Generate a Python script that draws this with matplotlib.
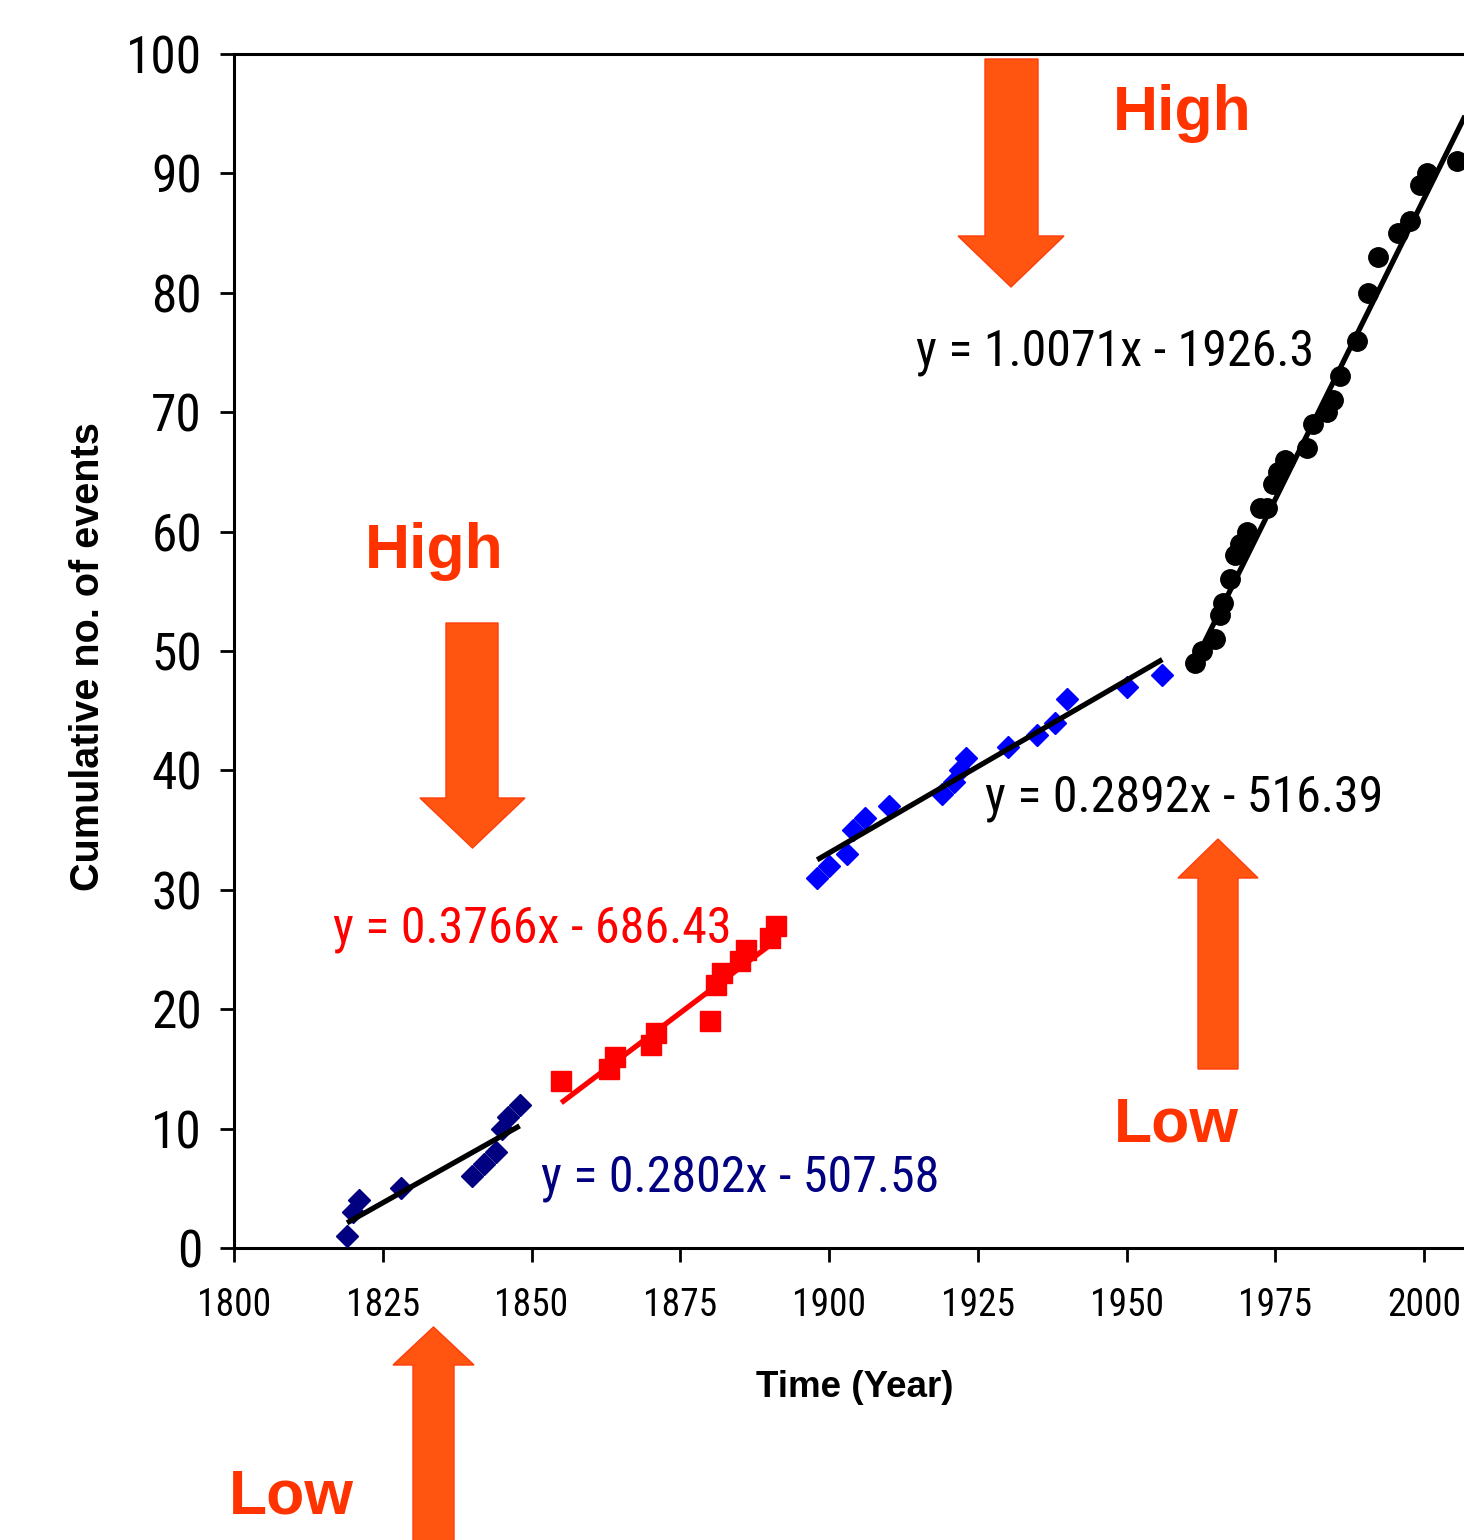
import matplotlib
matplotlib.use("Agg")
import matplotlib.pyplot as plt
from matplotlib import font_manager
from matplotlib.font_manager import FontProperties
from matplotlib.patches import Polygon
import numpy as np

# ---------------- data ----------------
navy_years = [1819, 1820, 1821, 1828, 1840, 1842, 1844, 1845, 1846, 1848]
navy_counts = [1, 3, 4, 5, 6, 7, 8, 10, 11, 12]

red_years = [1855, 1863, 1864, 1870, 1871, 1880, 1881, 1882, 1885, 1886, 1890, 1891]
red_counts = [14, 15, 16, 17, 18, 19, 22, 23, 24, 25, 26, 27]

blue_years = [1898, 1900, 1903, 1904, 1906, 1910, 1919, 1921, 1922, 1923,
              1930, 1935, 1938, 1940, 1950, 1956]
blue_counts = [31, 32, 33, 35, 36, 37, 38, 39, 40, 41, 42, 43, 44, 46, 47, 48]

black_years = [1961.5, 1962.7, 1964.9, 1965.7, 1966.2, 1967.4, 1968.2, 1969.1,
               1970.3, 1972.4, 1973.6, 1974.6, 1975.5, 1976.6, 1980.3, 1981.3,
               1983.7, 1984.7, 1985.9, 1988.7, 1990.6, 1992.3, 1995.6, 1997.6,
               1999.3, 2000.5, 2005.5]
black_counts = [49, 50, 51, 53, 54, 56, 58, 59, 60, 62, 62, 64, 65, 66, 67, 69,
                70, 71, 73, 76, 80, 83, 85, 86, 89, 90, 91]

# trend line coefficients (slope, intercept) as printed on chart
navy_fit = (0.2802, -507.58)
red_fit = (0.3766, -686.43)
blue_fit = (0.2892, -516.39)
black_fit = (1.0071, -1926.3)

x_ticks = [1800, 1825, 1850, 1875, 1900, 1925, 1950, 1975, 2000]
y_ticks = [0, 10, 20, 30, 40, 50, 60, 70, 80, 90, 100]

# ---------------- fonts ----------------
def find_narrow():
    entries = font_manager.fontManager.ttflist
    for nm in ["Liberation Sans Narrow", "Arial Narrow", "Roboto Condensed",
               "Open Sans Condensed"]:
        for f in entries:
            if f.name == nm and f.style == "normal" and f.weight in (400, "normal", "regular"):
                return FontProperties(fname=f.fname), True
    for f in entries:
        if (str(f.stretch) in ("condensed", "semi-condensed", "extra-condensed")
                or (isinstance(f.stretch, int) and f.stretch < 500)) \
                and f.style == "normal" and f.weight in (400, "normal", "regular") \
                and "Mono" not in f.name and "Serif" not in f.name:
            return FontProperties(fname=f.fname), True
    return FontProperties(family="Liberation Sans"), False


narrow_fp, is_narrow = find_narrow()
scale = 1.0 if is_narrow else 0.86
wide = "Liberation Sans"


def nfp(size):
    fp = narrow_fp.copy()
    fp.set_size(size * scale)
    return fp


W, H = 1464, 1540
fig = plt.figure(figsize=(W / 100, H / 100), dpi=100)
ax = fig.add_axes([234 / W, 1 - 1248 / H, (1464 - 234) / W, (1248 - 54) / H])

ax.set_xlim(1800, 2006.7)
ax.set_ylim(0, 100)

ax.plot(navy_years, navy_counts, linestyle="none", marker="D", ms=11.5,
        color="#000080", zorder=3)
ax.plot(red_years, red_counts, linestyle="none", marker="s", ms=14,
        color="#FF0000", zorder=3)
ax.plot(blue_years, blue_counts, linestyle="none", marker="D", ms=11,
        color="#0000FF", zorder=3)
ax.plot(black_years, black_counts, linestyle="none", marker="o", ms=14,
        color="#000000", zorder=3, clip_on=False)


def trend(years, fit, color, extra=0.0):
    xs = np.array([min(years), max(years) + extra])
    ax.plot(xs, fit[0] * xs + fit[1], color=color, lw=3.8, zorder=4,
            solid_capstyle="butt")


trend(navy_years, navy_fit, "black")
trend(red_years, red_fit, "red")
trend(blue_years, blue_fit, "black")
trend(black_years, black_fit, "black", extra=1.5)

ax.set_xticks(x_ticks)
ax.set_yticks(y_ticks)
ax.set_xticklabels([str(t) for t in x_ticks], fontproperties=nfp(27))
ax.set_yticklabels([str(t) for t in y_ticks], fontproperties=nfp(37))
ax.tick_params(axis="x", direction="out", length=10, width=2, pad=18)
ax.tick_params(axis="y", direction="out", length=10, width=2, pad=13)
for s in ["left", "bottom", "top"]:
    ax.spines[s].set_linewidth(2.2)
ax.spines["right"].set_visible(False)

ax.set_xlabel("Time (Year)", fontfamily=wide, fontweight="bold", fontsize=26.5)
ax.xaxis.set_label_coords((855 - 234) / (1464 - 234), -(1397 - 1248) / (1248 - 54))
ax.set_ylabel("Cumulative no. of events", fontfamily=wide, fontweight="bold",
              fontsize=28.5)
ax.yaxis.set_label_coords(-(234 - 88) / (1464 - 234), 0.495)
ax.yaxis.label.set_va("center")
ax.xaxis.label.set_va("baseline")


def fx(px):
    return px / W


def fy(py):
    return 1 - py / H


# equation texts
eqs = [
    ("y = 1.0071x - 1926.3", 916, 365, "black"),
    ("y = 0.2892x - 516.39", 985, 811, "black"),
    ("y = 0.3766x - 686.43", 333, 942, "#FF0000"),
    ("y = 0.2802x - 507.58", 541, 1191, "#000080"),
]
for txt, px, py, c in eqs:
    fig.text(fx(px), fy(py), txt, color=c, fontproperties=nfp(36),
             ha="left", va="baseline")

label_color = "#FF3300"
for txt, px, py in [("High", 365, 568), ("High", 1113, 130),
                    ("Low", 1114, 1142), ("Low", 229, 1514)]:
    fig.text(fx(px), fy(py), txt, color=label_color, fontfamily=wide,
             fontweight="bold", fontsize=45, ha="left", va="baseline")

arrow_fill = "#FF5511"
arrow_edge = "#FF3D0A"


def arrow_pts(sx0, sx1, base, hb, hx0, hx1, tip_y):
    tip_x = (hx0 + hx1) / 2
    pts = [(sx0, base), (sx1, base), (sx1, hb), (hx1, hb), (tip_x, tip_y),
           (hx0, hb), (sx0, hb)]
    return [(fx(a), fy(b)) for a, b in pts]


arrows = [
    arrow_pts(446, 498, 623, 798, 420, 525, 848),
    arrow_pts(985, 1038, 59, 236, 958, 1064, 287),
    arrow_pts(1198, 1238, 1069, 878, 1178, 1258, 839),
    arrow_pts(413, 454, 1560, 1365, 393, 474, 1327),
]
for pts in arrows:
    fig.patches.append(Polygon(pts, closed=True, transform=fig.transFigure,
                               facecolor=arrow_fill, edgecolor=arrow_edge,
                               lw=1.0, zorder=5))

fig.savefig("out.png", dpi=100)
